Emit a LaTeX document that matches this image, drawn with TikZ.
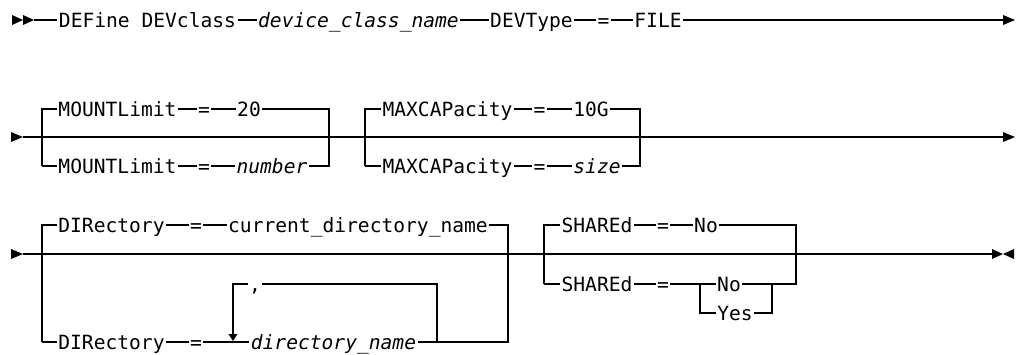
\documentclass[tikz,border=0pt]{standalone}
\usepackage{fontspec}
\newfontfamily\dmono{DejaVu Sans Mono}
\begin{document}
\begin{tikzpicture}[x=1pt,y=-1pt,
  t/.style={font=\dmono\fontsize{19.6}{22}\selectfont, inner xsep=1.5pt, inner ysep=0pt,
            outer sep=0pt, text height=14.3pt, text depth=0pt, anchor=center},
  v/.style={t, font=\dmono\itshape\fontsize{19.6}{22}\selectfont},
  ln/.style={line width=1.6pt, line join=miter},
  tip/.style={fill=black}]
\useasboundingbox[fill=white] (0,0) rectangle (1018,354);

% ---------- row 1 ----------
\fill[tip] (12,15) -- (23,20) -- (12,25) -- cycle;
\fill[tip] (23,15) -- (34,20) -- (23,25) -- cycle;
\coordinate (s1) at (34,20);
\node[t] (r1a) at (147.5,20) {DEFine DEVclass};
\node[v] (r1b) at (358.5,20) {device\_class\_name};
\node[t] (r1c) at (531.5,20) {DEVType};
\node[t] (r1d) at (603.5,20) {=};
\node[t] (r1e) at (658,20) {FILE};
\coordinate (e1) at (1003,20);
\draw[ln] (s1) -- (r1a) -- (r1b) -- (r1c) -- (r1d) -- (r1e) -- (e1);
\fill[tip] (1003,15) -- (1015,20) -- (1003,25) -- cycle;

% ---------- row 2 ----------
\fill[tip] (11,132) -- (23,137) -- (11,142) -- cycle;
\coordinate (s2) at (23,137);
\coordinate (e2) at (1003,137);
\draw[ln] (s2) -- (e2);
\fill[tip] (1003,132) -- (1015,137) -- (1003,142) -- cycle;

\coordinate (b1tl) at (42,109);  \coordinate (b1bl) at (42,166);
\coordinate (b1tr) at (329,109); \coordinate (b1br) at (329,166);
\node[t] (m1) at (117.5,109) {MOUNTLimit};
\node[t] (m2) at (204,109) {=};
\node[t] (m3) at (249,109) {20};
\node[t] (m4) at (117.5,166) {MOUNTLimit};
\node[t] (m5) at (204,166) {=};
\node[v] (m6) at (272,166) {number};
\draw[ln] (b1bl) -- (b1tl) -- (m1) -- (m2) -- (m3) -- (b1tr) -- (b1br) -- (m6) -- (m5) -- (m4) -- (b1bl);

\coordinate (b2tl) at (365,109);  \coordinate (b2bl) at (365,166);
\coordinate (b2tr) at (640,109);  \coordinate (b2br) at (640,166);
\node[t] (x1) at (447.5,109) {MAXCAPacity};
\node[t] (x2) at (539.5,109) {=};
\node[t] (x3) at (591,109) {10G};
\node[t] (x4) at (447.5,166) {MAXCAPacity};
\node[t] (x5) at (539.5,166) {=};
\node[v] (x6) at (597,166) {size};
\draw[ln] (b2bl) -- (b2tl) -- (x1) -- (x2) -- (x3) -- (b2tr) -- (b2br) -- (x6) -- (x5) -- (x4) -- (b2bl);

% ---------- row 3 ----------
\fill[tip] (11,249) -- (23,254) -- (11,259) -- cycle;
\coordinate (s3) at (23,254);
\coordinate (e3) at (992,254);
\draw[ln] (s3) -- (e3);
\draw[line width=2.2pt] (796,254) -- (825,254);
\fill[tip] (992,249) -- (1003,254) -- (992,259) -- cycle;
\fill[tip] (1014,249) -- (1003,254) -- (1014,259) -- cycle;

\coordinate (b3tl) at (42,225);  \coordinate (b3bl) at (42,342);
\coordinate (b3tr) at (508,225); \coordinate (b3br) at (508,342);
\node[t] (d1) at (111.5,225) {DIRectory};
\node[t] (d2) at (196,225) {=};
\node[t] (d3) at (358,225) {current\_directory\_name};
\node[t] (d4) at (111.5,342) {DIRectory};
\node[t] (d5) at (196,342) {=};
\node[v] (d6) at (333.5,342) {directory\_name};
\coordinate (lpl) at (233,342); \coordinate (lpr) at (437,342);
\draw[ln] (b3bl) -- (b3tl) -- (d1) -- (d2) -- (d3) -- (b3tr) -- (b3br) -- (lpr) -- (d6) -- (d5) -- (d4) -- (b3bl);
% repeat loop
\coordinate (lptr) at (437,284); \coordinate (lptl) at (233,284);
\coordinate (lpa) at (233,334);
\node[t] (cm) at (255,284) {,};
\draw[ln] (lpr) -- (lptr) -- (cm) -- (lptl) -- (lpa);
\fill[tip] (228.5,334) -- (237.5,334) -- (233,341) -- cycle;

% SHAREd
\coordinate (b4tl) at (544,225); \coordinate (b4bl) at (544,284);
\coordinate (b4tr) at (796,225); \coordinate (b4br) at (796,284);
\node[t] (h1) at (597,225) {SHAREd};
\node[t] (h2) at (663,225) {=};
\node[t] (h3) at (706,225) {No};
\node[t] (h4) at (597,284) {SHAREd};
\node[t] (h5) at (663,284) {=};
\coordinate (c1t) at (700,284); \coordinate (c1b) at (700,313);
\coordinate (c2t) at (772,284); \coordinate (c2b) at (772,313);
\node[t] (h6) at (729,284) {No};
\node[t] (h7) at (735,313) {Yes};
\draw[ln] (b4bl) -- (b4tl) -- (h1) -- (h2) -- (h3) -- (b4tr) -- (b4br) -- (c2t) -- (h6) -- (c1t) -- (h5) -- (h4) -- (b4bl);
\draw[ln] (c1t) -- (c1b) -- (h7) -- (c2b) -- (c2t);
\end{tikzpicture}
\end{document}
